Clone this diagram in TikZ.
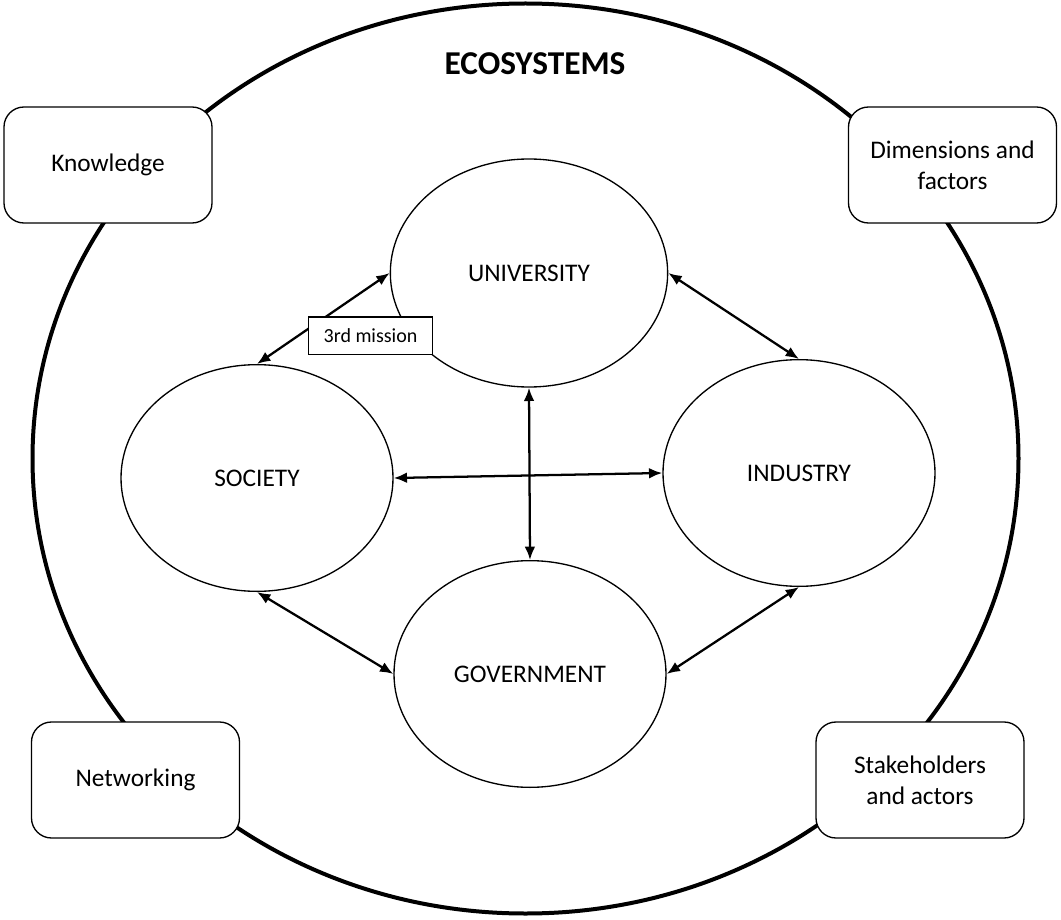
\documentclass[tikz,border=0pt]{standalone}
\usepackage{fontspec}
\setmainfont{Carlito}
\usetikzlibrary{shapes.geometric,arrows.meta}
\tikzset{actor/.style={ellipse,draw,line width=1pt,minimum width=204pt,minimum height=170pt,font=\fontsize{19}{23}\selectfont},
	 topic/.style={rectangle,draw,fill=white,rounded corners=15pt,line width=1pt,minimum width=156pt,minimum height=87pt,align=center,font=\fontsize{19}{23}\selectfont},
	 link/.style={{Latex[length=10pt,width=8pt]}-{Latex[length=10pt,width=8pt]},line width=1.7pt}
	 }

\begin{document}
\begin{tikzpicture}[x=0.75pt,y=0.75pt] % ecosystem of university, society, industry, government
	\useasboundingbox (0,0) rectangle (1061,-920);
	\draw[line width=3pt] (525.5,-458.5) ellipse [x radius=493,y radius=455];
	\node[font=\fontsize{25}{30}\selectfont\bfseries] (title) at (535,-64) {ECOSYSTEMS};
	\node[topic] (know) at (108,-165) {Knowledge};
	\node[topic] (dim) at (952.5,-165) {Dimensions and\\factors};
	\node[topic] (net) at (135.5,-780) {Networking};
	\node[topic] (stake) at (920,-780) {Stakeholders\\and actors};
	\node[actor,minimum width=208pt,minimum height=171pt] (uni) at (529,-273) {UNIVERSITY};
	\node[actor] (soc) at (257,-478) {SOCIETY};
	\node[actor] (ind) at (799,-473) {INDUSTRY};
	\node[actor] (gov) at (530,-674) {GOVERNMENT};
	\draw[link] (uni.west) to (soc.north);
	\draw[link] (uni.east) to (ind.north);
	\draw[link] (uni.south) to (gov.north);
	\draw[link] (soc.east) to (ind.west);
	\draw[link] (soc.south) to (gov.west);
	\draw[link] (gov.east) to (ind.south);
	\node[draw,fill=white,line width=1pt,minimum width=93pt,minimum height=28pt,font=\fontsize{15}{18}\selectfont] (third) at (370.5,-335.5) {3rd mission};
\end{tikzpicture}
\end{document}
